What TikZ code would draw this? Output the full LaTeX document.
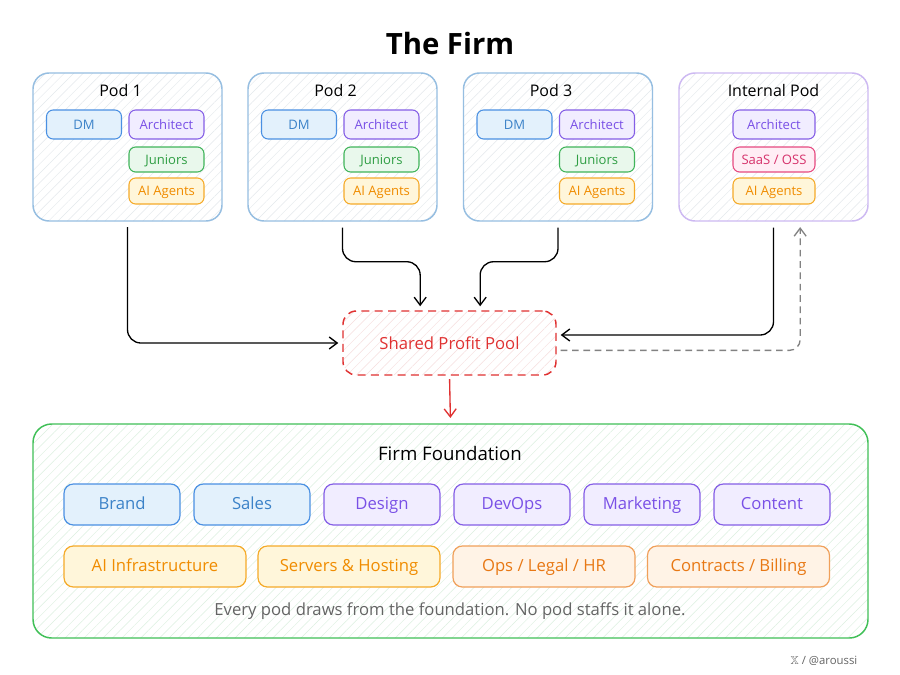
\documentclass[tikz,border=0pt]{standalone}
\usepackage{amssymb}
\usepackage{fontspec}
\setmainfont{Open Sans}
\usetikzlibrary{arrows.meta,patterns.meta}

\definecolor{podline}{RGB}{150,190,225}
\definecolor{podintline}{RGB}{205,185,242}
\definecolor{hatch}{RGB}{228,232,236}
\definecolor{bluestroke}{RGB}{74,144,226}
\definecolor{bluetext}{RGB}{59,130,200}
\definecolor{bluefill}{RGB}{227,241,252}
\definecolor{purplestroke}{RGB}{132,94,230}
\definecolor{purpletext}{RGB}{121,80,230}
\definecolor{purplefill}{RGB}{241,237,255}
\definecolor{greenstroke}{RGB}{64,180,90}
\definecolor{greentext}{RGB}{47,158,68}
\definecolor{greenfill}{RGB}{233,248,236}
\definecolor{yellowstroke}{RGB}{245,170,40}
\definecolor{yellowtext}{RGB}{240,140,0}
\definecolor{yellowfill}{RGB}{255,246,218}
\definecolor{peachstroke}{RGB}{240,160,90}
\definecolor{peachtext}{RGB}{232,120,20}
\definecolor{peachfill}{RGB}{255,243,230}
\definecolor{pinkstroke}{RGB}{230,73,128}
\definecolor{pinktext}{RGB}{214,51,108}
\definecolor{pinkfill}{RGB}{255,238,245}
\definecolor{poolred}{RGB}{224,49,49}
\definecolor{poolhatch}{RGB}{246,222,222}
\definecolor{foundgreen}{RGB}{64,192,87}
\definecolor{foundhatch}{RGB}{220,240,224}
\definecolor{backgrey}{RGB}{130,130,130}
\definecolor{captiongrey}{RGB}{100,100,100}

\tikzset{
  hatched/.style={preaction={fill=white}, pattern={Lines[angle=45,distance=5pt,line width=0.35pt]}, pattern color=#1},
  pod/.style={draw=podline, line width=1.1pt, rounded corners=12pt, minimum width=141.75pt, minimum height=111pt, inner sep=0pt, hatched=hatch},
  podtitle/.style={font=\fontsize{12}{14}\selectfont, text=black, inner sep=0.75pt},
  chip/.style={rounded corners=5pt, line width=0.8pt, inner sep=0pt, text height=1.6ex, text depth=0.2ex, font=\fontsize{9.8}{11}\selectfont},
  smallchip/.style={chip, minimum width=56.25pt, minimum height=21.75pt},
  bigchip/.style={rounded corners=7pt, line width=0.9pt, inner sep=0pt, text height=1.6ex, text depth=0.2ex, minimum height=30.75pt, font=\fontsize{12.5}{14}\selectfont},
  bluechip/.style={draw=bluestroke, fill=bluefill, text=bluetext},
  purplechip/.style={draw=purplestroke, fill=purplefill, text=purpletext},
  greenchip/.style={draw=greenstroke, fill=greenfill, text=greentext},
  yellowchip/.style={draw=yellowstroke, fill=yellowfill, text=yellowtext},
  peachchip/.style={draw=peachstroke, fill=peachfill, text=peachtext},
  pinkchip/.style={draw=pinkstroke, fill=pinkfill, text=pinktext},
  flow/.style={draw=black, line width=1pt, rounded corners=10pt, shorten <=4.5pt, shorten >=3pt, -{Straight Barb[length=6pt,width=9pt]}},
  back/.style={draw=backgrey, line width=1pt, dash pattern=on 5pt off 3.5pt, rounded corners=8pt, shorten <=3pt, shorten >=4pt, -{Straight Barb[length=6pt,width=9pt]}},
  redflow/.style={draw=poolred, line width=1pt, shorten <=2.5pt, shorten >=4pt, -{Straight Barb[length=6pt,width=9pt]}}
}

\begin{document}
\begin{tikzpicture}[x=0.75pt,y=0.75pt,yscale=-1,xscale=1]
        \useasboundingbox (0,0) rectangle (900,675);
        \fill[white] (0,0) rectangle (900,675);

        % Text Node
        \node[font=\fontsize{22}{26}\selectfont\bfseries] (title) at (450,43) {The Firm};

        %Shape: Pods 1-3
        \foreach \i/\x in {1/127.5,2/342.5,3/558}{
          \node[pod] (pod\i) at (\x,147) {};
          \node[podtitle] (podtitle\i) at (\x-7,90) {Pod \i};
          \node[smallchip,bluechip] (dm\i) at (\x-43.5,124.5) {DM};
          \node[smallchip,purplechip] (arch\i) at (\x+39,124.5) {Architect};
          \node[smallchip,greenchip,minimum height=18.75pt] (jun\i) at (\x+39,159.5) {Juniors};
          \node[smallchip,yellowchip,minimum height=19.5pt] (ai\i) at (\x+39,191) {AI Agents};
        }

        %Shape: Internal Pod
        \node[pod,draw=podintline] (pod4) at (773.5,147) {};
        \node[podtitle] (podtitle4) at (773.5,90) {Internal Pod};
        \node[smallchip,purplechip,minimum width=61.5pt] (arch4) at (774,124.5) {Architect};
        \node[smallchip,pinkchip,minimum width=61.5pt,minimum height=18.75pt] (saas4) at (774,159.5) {SaaS / OSS};
        \node[smallchip,yellowchip,minimum width=61.5pt,minimum height=19.5pt] (ai4) at (774,191) {AI Agents};

        %Shape: Shared Profit Pool
        \node[draw=poolred, line width=1.1pt, dash pattern=on 6pt off 4pt, rounded corners=10pt, minimum width=159.75pt, minimum height=48pt, hatched=poolhatch, text=poolred, font=\fontsize{12.5}{14}\selectfont] (pool) at (449.5,343) {Shared Profit Pool};

        %Shape: Firm Foundation
        \node[draw=foundgreen, line width=1.1pt, rounded corners=14pt, minimum width=626.25pt, minimum height=160.5pt, inner sep=0pt, hatched=foundhatch] (found) at (450.5,531) {};
        \node[font=\fontsize{14}{16}\selectfont] (foundtitle) at (450,453) {Firm Foundation};

        % Foundation chips, row 1
        \node[bigchip,bluechip,minimum width=87pt] (brand) at (122,504.5) {Brand};
        \node[bigchip,bluechip,minimum width=87pt] (sales) at (252,504.5) {Sales};
        \node[bigchip,purplechip,minimum width=87pt] (design) at (382,504.5) {Design};
        \node[bigchip,purplechip,minimum width=87pt] (devops) at (512,504.5) {DevOps};
        \node[bigchip,purplechip,minimum width=87pt] (marketing) at (642,504.5) {Marketing};
        \node[bigchip,purplechip,minimum width=87pt] (content) at (772,504.5) {Content};
        % Foundation chips, row 2
        \node[bigchip,yellowchip,minimum width=136.5pt] (aiinfra) at (155,566.5) {AI Infrastructure};
        \node[bigchip,yellowchip,minimum width=136.5pt] (servers) at (349,566.5) {Servers \& Hosting};
        \node[bigchip,peachchip,minimum width=136.5pt] (ops) at (544,566.5) {Ops / Legal / HR};
        \node[bigchip,peachchip,minimum width=136.5pt] (contracts) at (738.5,566.5) {Contracts / Billing};

        % Text Node
        \node[text=captiongrey, font=\fontsize{12.5}{15}\selectfont] (caption) at (450,611) {Every pod draws from the foundation. No pod staffs it alone.};

        %Connectors
        \draw[flow] (pod1.south) |- (pool.west);
        \draw[flow] (pod2.south) -- ++(0,40) -| ([xshift=-22pt]pool.north);
        \draw[flow] (pod3.south) -- ++(0,40) -| ([xshift=23pt]pool.north);
        \draw[flow] (pod4.south) |- ([yshift=-6pt]pool.east);
        \draw[back] ([yshift=5.5pt]pool.east) -| ([xshift=20pt]pod4.south);
        \draw[redflow] (pool.south) -- (found.north);

        % Text Node
        \node[anchor=east, text=captiongrey, font=\fontsize{8.5}{10}\selectfont] (handle) at (862,661) {$\mathbb{X}$ / @aroussi};

\end{tikzpicture}
\end{document}
